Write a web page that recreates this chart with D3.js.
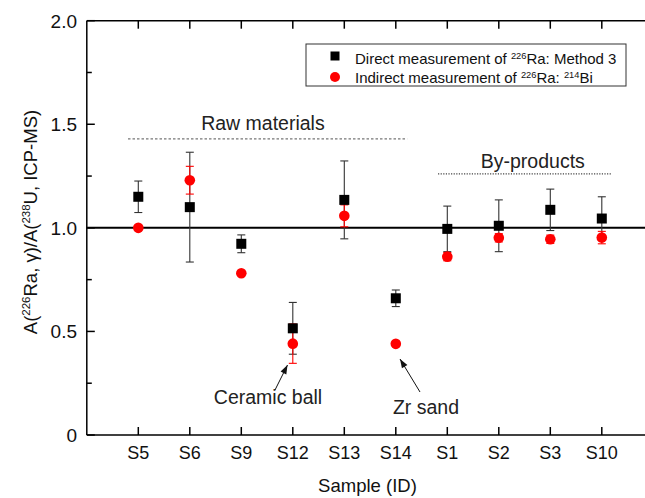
<!DOCTYPE html>
<html><head><meta charset="utf-8">
<script src="https://cdn.jsdelivr.net/npm/d3@7"></script>
<style>body{margin:0;background:#fff}svg{display:block;font-family:"Liberation Sans",Arial,sans-serif}</style>
</head><body><svg id="c" width="645" height="498"></svg>
<script>
const samples = ["S5","S6","S9","S12","S13","S14","S1","S2","S3","S10"];
const direct = [1.15, 1.10, 0.923, 0.515, 1.135, 0.66, 0.995, 1.01, 1.087, 1.045];
const directErr = [0.076, 0.265, 0.043, 0.125, 0.188, 0.04, 0.11, 0.125, 0.10, 0.105];
const indirect = [1.0, 1.23, 0.781, 0.441, 1.058, 0.440, 0.861, 0.952, 0.945, 0.953];
const indirectErr = [0.008, 0.067, 0.008, 0.095, 0.053, 0.008, 0.02, 0.02, 0.02, 0.03];
const yTicks = [0, 0.5, 1.0, 1.5, 2.0];
const yTickLabels = ["0", "0.5", "1.0", "1.5", "2.0"];
const yMinor = [0.25, 0.75, 1.25, 1.75];

const svg = d3.select("#c");
const L = 86.8, T = 20.7, B = 435;
const x = d3.scaleLinear().domain([0, 11]).range([L, L + 11 * 51.5]);
const y = d3.scaleLinear().domain([0, 2]).range([B, T]);
const fs = 18, afs = 19.5;

// reference line at 1.0
svg.append("line").attr("x1", L).attr("x2", 645).attr("y1", y(1)).attr("y2", y(1))
  .attr("stroke", "#000").attr("stroke-width", 2);

// group dashed lines
svg.append("line").attr("x1", x(0.8)).attr("x2", x(6.22)).attr("y1", y(1.43)).attr("y2", y(1.43))
  .attr("stroke", "#777").attr("stroke-width", 1.2).attr("stroke-dasharray", "2.5,2");
svg.append("line").attr("x1", x(6.82)).attr("x2", x(10.18)).attr("y1", y(1.261)).attr("y2", y(1.261))
  .attr("stroke", "#444").attr("stroke-width", 1.2).attr("stroke-dasharray", "1.2,1.4");
svg.append("text").attr("x", x(3.42)).attr("y", y(1.47)).attr("text-anchor", "middle")
  .attr("font-size", afs).attr("fill", "#222").text("Raw materials");
svg.append("text").attr("x", x(8.66)).attr("y", y(1.29)).attr("text-anchor", "middle")
  .attr("font-size", afs).attr("fill", "#222").text("By-products");

// error bars
function errBars(vals, errs, color, capW) {
  const g = svg.append("g");
  samples.forEach((s, i) => {
    const cx = x(i + 1), lo = y(vals[i] - errs[i]), hi = y(vals[i] + errs[i]);
    g.append("line").attr("x1", cx).attr("x2", cx).attr("y1", lo).attr("y2", hi).attr("stroke", color).attr("stroke-width", 1.1);
    [lo, hi].forEach(yy => g.append("line").attr("x1", cx - capW).attr("x2", cx + capW).attr("y1", yy).attr("y2", yy).attr("stroke", color).attr("stroke-width", 1.1));
  });
}
errBars(direct, directErr, "#333", 4);
errBars(indirect, indirectErr, "#f00", 4);

// markers
svg.append("g").selectAll("rect").data(direct).join("rect")
  .attr("x", (d, i) => x(i + 1) - 5).attr("y", d => y(d) - 5).attr("width", 10).attr("height", 10).attr("fill", "#000");
svg.append("g").selectAll("circle").data(indirect).join("circle")
  .attr("cx", (d, i) => x(i + 1)).attr("cy", d => y(d)).attr("r", 5.3).attr("fill", "#f00");

// axes
const ax = svg.append("g").attr("stroke", "#000").attr("stroke-width", 1.5);
ax.append("line").attr("x1", L).attr("x2", L).attr("y1", T).attr("y2", B);
ax.append("line").attr("x1", L).attr("x2", 645).attr("y1", B).attr("y2", B);
ax.append("line").attr("x1", L).attr("x2", 645).attr("y1", T).attr("y2", T);
yTicks.forEach(v => ax.append("line").attr("x1", L).attr("x2", L + 8).attr("y1", y(v)).attr("y2", y(v)));
yMinor.forEach(v => ax.append("line").attr("x1", L).attr("x2", L + 5).attr("y1", y(v)).attr("y2", y(v)));
samples.forEach((s, i) => {
  ax.append("line").attr("x1", x(i + 1)).attr("x2", x(i + 1)).attr("y1", B).attr("y2", B - 8);
  ax.append("line").attr("x1", x(i + 1)).attr("x2", x(i + 1)).attr("y1", T).attr("y2", T + 8);
});
svg.append("g").selectAll("text").data(yTicks).join("text")
  .attr("x", 77).attr("y", d => y(d) + 7).attr("text-anchor", "end").attr("font-size", 19).attr("fill", "#111")
  .text((d, i) => yTickLabels[i]);
svg.append("g").selectAll("text").data(samples).join("text")
  .attr("x", (d, i) => x(i + 1)).attr("y", 459).attr("text-anchor", "middle").attr("font-size", fs).attr("fill", "#111")
  .text(d => d);
svg.append("text").attr("x", x(5.45)).attr("y", 492).attr("text-anchor", "middle").attr("font-size", 18.5).attr("fill", "#111").text("Sample (ID)");

// y title
const yt = svg.append("text").attr("transform", "translate(37,222) rotate(-90)").attr("text-anchor", "middle")
  .attr("font-size", 18.5).attr("fill", "#111");
yt.append("tspan").text("A(");
yt.append("tspan").attr("font-size", 18.5 * 0.62).attr("dy", -7).text("226");
yt.append("tspan").attr("dy", 7).text("Ra, γ)/A(");
yt.append("tspan").attr("font-size", 18.5 * 0.62).attr("dy", -7).text("238");
yt.append("tspan").attr("dy", 7).text("U, ICP-MS)");

// annotations
function arrow(x1, y1, x2, y2) {
  svg.append("line").attr("x1", x1).attr("y1", y1).attr("x2", x2).attr("y2", y2).attr("stroke", "#111").attr("stroke-width", 1);
  const a = Math.atan2(y2 - y1, x2 - x1), len = 9, w = 3.2;
  const p = [[x2, y2],
    [x2 - len * Math.cos(a) + w * Math.sin(a), y2 - len * Math.sin(a) - w * Math.cos(a)],
    [x2 - len * Math.cos(a) - w * Math.sin(a), y2 - len * Math.sin(a) + w * Math.cos(a)]];
  svg.append("path").attr("d", d3.line()(p) + "Z").attr("fill", "#111");
}
arrow(275, 390, 287.5, 365);
arrow(420, 392, 400, 359);
svg.append("text").attr("x", 268).attr("y", 404).attr("text-anchor", "middle").attr("font-size", afs).attr("fill", "#222").text("Ceramic ball");
svg.append("text").attr("x", 426).attr("y", 414).attr("text-anchor", "middle").attr("font-size", afs).attr("fill", "#222").text("Zr sand");

// legend
const lg = svg.append("g");
lg.append("rect").attr("x", 306).attr("y", 44).attr("width", 320).attr("height", 42).attr("fill", "#fff").attr("stroke", "#333").attr("stroke-width", 1);
lg.append("rect").attr("x", 330.5).attr("y", 51.5).attr("width", 9).attr("height", 9).attr("fill", "#000");
lg.append("circle").attr("cx", 335).attr("cy", 77).attr("r", 5).attr("fill", "#f00");
const lfs = 15;
const t1 = lg.append("text").attr("x", 355).attr("y", 64).attr("font-size", lfs).attr("fill", "#111");
t1.append("tspan").text("Direct measurement of ");
t1.append("tspan").attr("font-size", lfs * 0.62).attr("dy", -5.5).text("226");
t1.append("tspan").attr("dy", 5.5).text("Ra: Method 3");
const t2 = lg.append("text").attr("x", 355).attr("y", 83).attr("font-size", lfs).attr("fill", "#111");
t2.append("tspan").text("Indirect measurement of ");
t2.append("tspan").attr("font-size", lfs * 0.62).attr("dy", -5.5).text("226");
t2.append("tspan").attr("dy", 5.5).text("Ra: ");
t2.append("tspan").attr("font-size", lfs * 0.62).attr("dy", -5.5).text("214");
t2.append("tspan").attr("dy", 5.5).text("Bi");
</script></body></html>
